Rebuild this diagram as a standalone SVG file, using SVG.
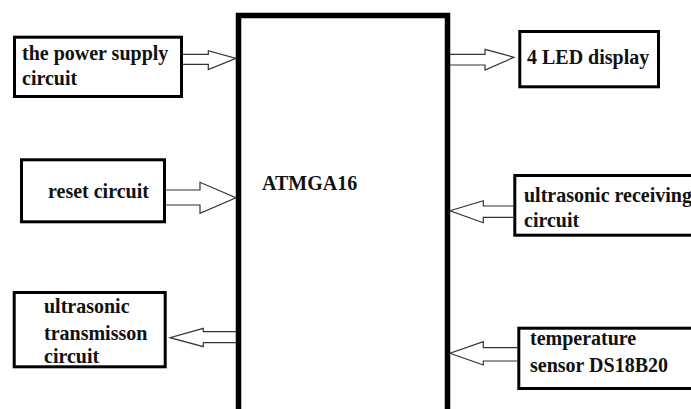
<svg xmlns="http://www.w3.org/2000/svg" width="691" height="409" viewBox="0 0 691 409">
<style>
.box{fill:#fff;stroke:#000;stroke-width:3}
.main{fill:#fff;stroke:#000;stroke-width:5.5}
.t{font-family:"Liberation Serif","Times New Roman",serif;font-weight:bold;font-size:20px;fill:#111}
.arr{fill:#fff;stroke:#333;stroke-width:1.2;stroke-linejoin:miter}
</style>
<rect width="691" height="409" fill="#fff"/>
<g id="connectors">
<polyline class="arr" points="183,54.3 208.3,54.3 208.3,50.7 236,58.3 208.3,69.5 208.3,64.3 183,64.3"/>
<polyline class="arr" points="450,54.3 485,54.3 485,49.3 514,57.3 485,70 485,65 450,65"/>
<polyline class="arr" points="166,190 200,190 200,182.3 236,197.7 200,213.3 200,205 166,205"/>
<polyline class="arr" points="513,206 483.3,206 483.3,200.7 450,210.7 483.3,222.7 483.3,217.3 513,217.3"/>
<polyline class="arr" points="236,331.7 203.3,331.7 203.3,328.3 170,337.7 203.3,346.7 203.3,342.7 236,342.7"/>
<polyline class="arr" points="517,347.7 483.3,347.7 483.3,341.7 450,353.3 483.3,365 483.3,361 517,361"/>
</g>
<g id="atmga16">
<rect class="main" x="238.5" y="15.5" width="209" height="400"/>
<text class="t" x="262" y="189.5">ATMGA16</text>
</g>
<g id="power">
<rect class="box" x="14.5" y="37.2" width="167" height="59.3"/>
<text class="t" x="22" y="60">the power supply</text>
<text class="t" x="22" y="85">circuit</text>
</g>
<g id="led">
<rect class="box" x="519.8" y="31.5" width="138.7" height="55.3"/>
<text class="t" x="527" y="64">4 LED display</text>
</g>
<g id="reset">
<rect class="box" x="21.5" y="159.8" width="143" height="62"/>
<text class="t" x="48" y="198">reset circuit</text>
</g>
<g id="receiving">
<rect class="box" x="514.8" y="175.5" width="200" height="59.7"/>
<text class="t" x="524" y="201.7">ultrasonic receiving</text>
<text class="t" x="524" y="226.7">circuit</text>
</g>
<g id="transmission">
<rect class="box" x="14.2" y="292.5" width="151" height="74.3"/>
<text class="t" x="44" y="312.7">ultrasonic</text>
<text class="t" x="44" y="340.3">transmisson</text>
<text class="t" x="44" y="362.7">circuit</text>
</g>
<g id="temperature">
<rect class="box" x="518.8" y="328.2" width="200" height="60.3"/>
<text class="t" x="530" y="345">temperature</text>
<text class="t" x="530" y="371.7">sensor DS18B20</text>
</g>
</svg>
